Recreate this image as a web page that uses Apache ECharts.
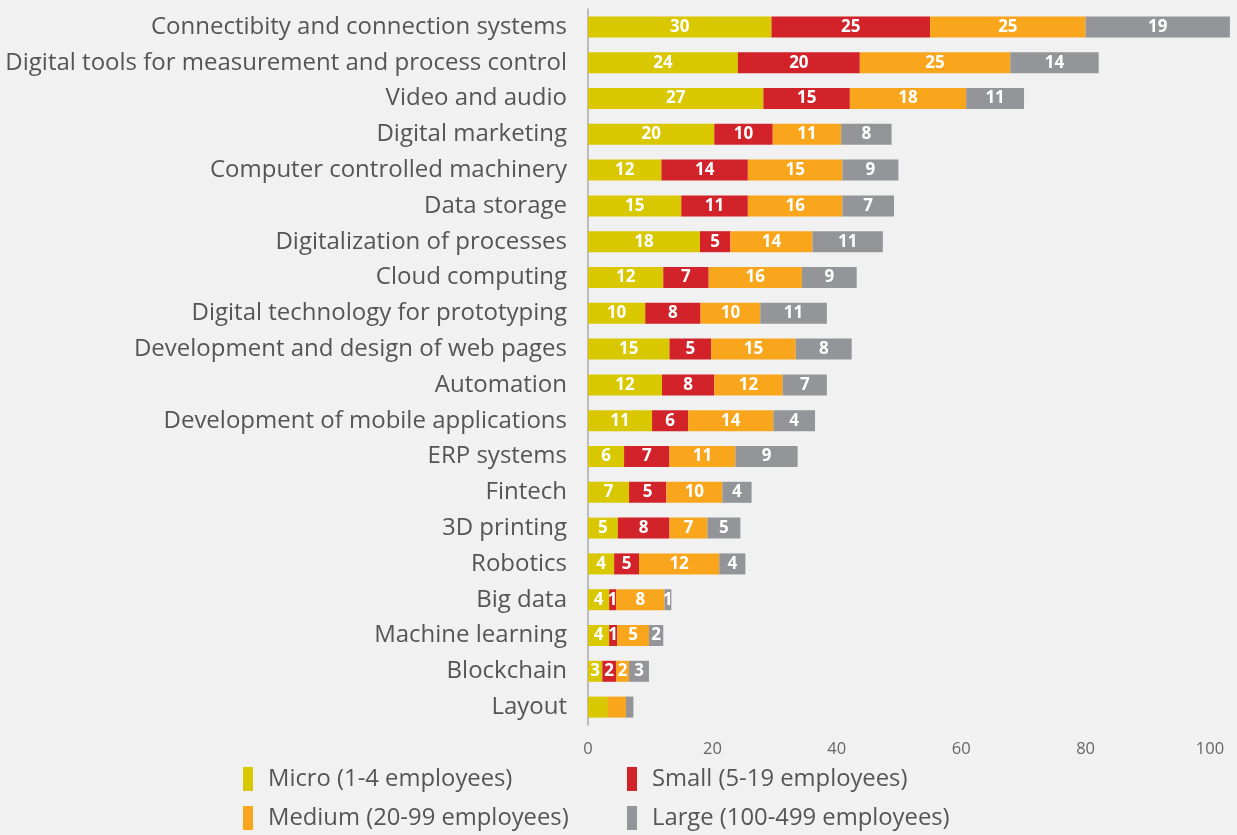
<!DOCTYPE html>
<html>
<head>
<meta charset="utf-8">
<script src="https://cdn.jsdelivr.net/npm/echarts@6/dist/echarts.min.js"></script>
<style>
html,body{margin:0;padding:0;background:#f1f1f1;}
#chart{width:1237px;height:835px;}
</style>
</head>
<body>
<div id="chart"></div>
<script>
const categories = [
  "Connectibity and connection systems",
  "Digital tools for measurement and process control",
  "Video and audio",
  "Digital marketing",
  "Computer controlled machinery",
  "Data storage",
  "Digitalization of processes",
  "Cloud computing",
  "Digital technology for prototyping",
  "Development and design of web pages",
  "Automation",
  "Development of mobile applications",
  "ERP systems",
  "Fintech",
  "3D printing",
  "Robotics",
  "Big data",
  "Machine learning",
  "Blockchain",
  "Layout"
];
const seriesNames = ["Micro (1-4 employees)", "Small (5-19 employees)", "Medium (20-99 employees)", "Large (100-499 employees)"];

// bar lengths as drawn in the picture
const microValues  = [29.5,24.1,28.2,20.3,11.8,15.0,18.0,12.1,9.2,13.1,11.9,10.3,5.8,6.6,4.8,4.2,3.4,3.4,2.3,3.2];
const smallValues  = [25.5,19.6,13.9,9.4,13.9,10.7,4.9,7.3,8.9,6.7,8.4,5.8,7.3,6.0,8.3,4.0,1.1,1.3,2.2,0];
const mediumValues = [25.0,24.2,18.7,11.0,15.2,15.2,13.2,15.0,9.6,13.6,11.0,13.7,10.6,9.0,6.1,12.9,7.8,5.1,2.1,2.9];
const largeValues  = [23.2,14.2,9.3,8.1,9.0,8.3,11.3,8.8,10.7,9.0,7.1,6.7,10.0,4.7,5.3,4.2,1.1,2.3,3.2,1.2];

// numbers printed on the bars
const microLabels  = ["30","24","27","20","12","15","18","12","10","15","12","11","6","7","5","4","4","4","3",""];
const smallLabels  = ["25","20","15","10","14","11","5","7","8","5","8","6","7","5","8","5","1","1","2",""];
const mediumLabels = ["25","25","18","11","15","16","14","16","10","15","12","14","11","10","7","12","8","5","2",""];
const largeLabels  = ["19","14","11","8","9","7","11","9","11","8","7","4","9","4","5","4","1","2","3",""];

const xTicks = { min: 0, max: 100, interval: 20 };

const colors = ["#d9c800", "#d2232a", "#f9a61c", "#939598"];
const valueSets = [microValues, smallValues, mediumValues, largeValues];
const labelSets = [microLabels, smallLabels, mediumLabels, largeLabels];

const chart = echarts.init(document.getElementById('chart'));
const FONT = "'Open Sans', 'DejaVu Sans', sans-serif";

const series = seriesNames.map((name, i) => ({
  name: name,
  type: 'bar',
  stack: 'total',
  barWidth: 21,
  clip: false,
  itemStyle: { color: colors[i] },
  label: {
    show: true,
    position: 'inside',
    color: '#ffffff',
    fontFamily: FONT,
    fontWeight: 'bold',
    fontSize: 17,
    formatter: p => labelSets[i][p.dataIndex]
  },
  emphasis: { disabled: true },
  data: valueSets[i]
}));

const legendPos = [
  { left: 243, top: 767 },
  { left: 627, top: 767 },
  { left: 243, top: 806 },
  { left: 627, top: 806 }
];
const legends = seriesNames.map((name, i) => ({
  data: [name],
  left: legendPos[i].left,
  top: legendPos[i].top,
  orient: 'horizontal',
  icon: 'rect',
  itemWidth: 10,
  itemHeight: 24,
  padding: 0,
  selectedMode: false,
  textStyle: { fontFamily: FONT, fontSize: 23.8, color: '#555555', padding: [0, 0, 0, 10] }
}));

chart.setOption({
  backgroundColor: '#f1f1f1',
  animation: false,
  color: colors,
  legend: legends,
  grid: { left: 588, right: 27, top: 9, bottom: 110, containLabel: false },
  xAxis: {
    type: 'value',
    min: xTicks.min,
    max: xTicks.max,
    interval: xTicks.interval,
    axisLine: { show: false },
    axisTick: { show: false },
    splitLine: { show: false },
    axisLabel: { color: '#666666', fontFamily: FONT, fontSize: 16.5, margin: 16 }
  },
  yAxis: {
    type: 'category',
    data: categories,
    inverse: true,
    axisLine: { show: true, lineStyle: { color: '#aaaaaa', width: 1.5 } },
    axisTick: { show: false },
    axisLabel: { color: '#555555', fontFamily: FONT, fontSize: 24, margin: 21 }
  },
  series: series
});
</script>
</body>
</html>
